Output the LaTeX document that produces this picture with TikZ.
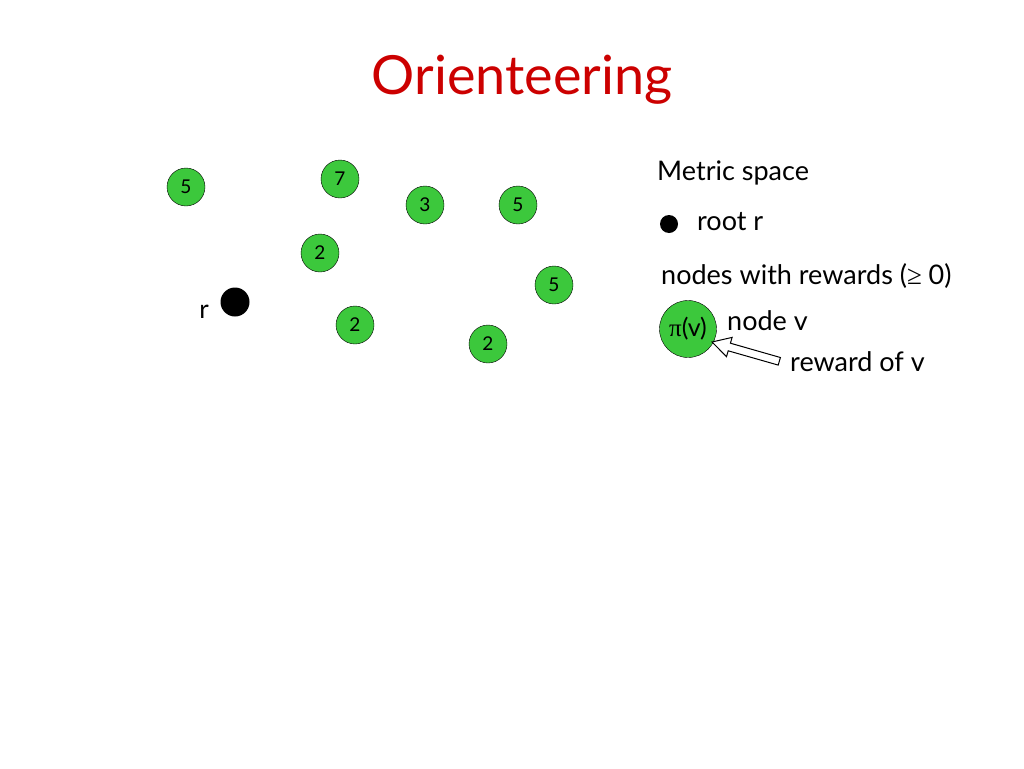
\documentclass[tikz,border=0pt]{standalone}
\usepackage{fontspec}
\setmainfont{Lato}
\newfontfamily\symfont{Liberation Serif}
\definecolor{ngreen}{HTML}{3CC83C}
\definecolor{tred}{HTML}{CC0000}
\begin{document}
\begin{tikzpicture}[x=1pt,y=-1pt,
  rw/.style={circle,draw=black,fill=ngreen,minimum size=38pt,inner sep=0pt,font=\fontsize{19}{19}\selectfont},
  lbl/.style={anchor=west,inner sep=0pt,font=\fontsize{27}{27}\selectfont}]
\useasboundingbox (0,0) rectangle (1024,768);
\node[text=tred,font=\fontsize{54}{54}\selectfont] (title) at (522,80) {Orienteering};
\node[rw] (a) at (186,187) {5};
\node[rw] (b) at (340,179) {7};
\node[rw] (c) at (425,205) {3};
\node[rw] (d) at (518,205) {5};
\node[rw] (e) at (320,253) {2};
\node[rw] (f) at (554,285) {5};
\node[rw] (g) at (355,325) {2};
\node[rw] (h) at (488,344) {2};
\node[circle,fill=black,minimum size=29pt,inner sep=0pt] (root) at (235,302) {};
\node[font=\fontsize{26}{26}\selectfont] (rl) at (204,312) {r};
\node[lbl] (ms) at (657,173) {Metric space};
\node[circle,fill=black,minimum size=18pt,inner sep=0pt] (ld) at (669,224) {};
\node[lbl] (rr) at (697,222) {root r};
\node[lbl] (nr) at (661,276) {nodes with rewards ({\symfont ≥} 0)};
\node[circle,draw=black,fill=ngreen,minimum size=57pt,inner sep=0pt,font=\fontsize{25}{25}\selectfont] (pv) at (688,329) {{\symfont π}(v)};
\node[lbl] (nv) at (727,321) {node v};
\node[lbl] (rv) at (790,362) {reward of v};
\draw[fill=white,line width=1pt] (712,342) -- (732.1,337.4) -- (730.4,343.2) -- (780.4,357.5) -- (778.2,365.1) -- (728.2,350.8) -- (726.5,356.6) -- cycle;
\end{tikzpicture}
\end{document}
